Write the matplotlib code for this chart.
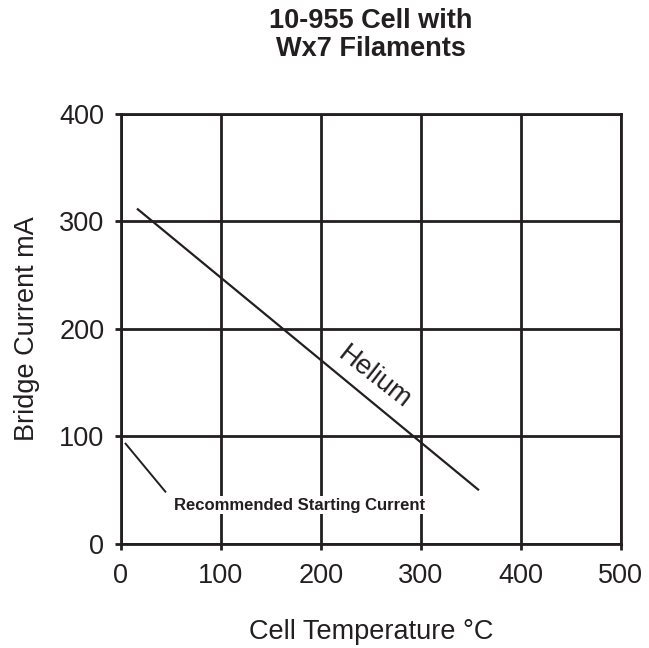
import matplotlib
matplotlib.use("Agg")
import matplotlib.pyplot as plt

plt.rcParams['font.family'] = ['Liberation Sans', 'DejaVu Sans']

ink = '#231f20'

# axis ticks
x_ticks = [0, 100, 200, 300, 400, 500]
y_ticks = [0, 100, 200, 300, 400]

# helium line (cell temperature degC vs bridge current mA)
helium_temp = [16, 358]
helium_current = [312, 50]

# leader line for the recommended starting current note
leader_temp = [4, 45]
leader_current = [94, 48]

title = "10-955 Cell with\nWx7 Filaments"

fig = plt.figure(figsize=(6.49, 6.48), dpi=100)
ax = fig.add_axes([0.1864, 0.1605, 0.7704, 0.6636])

ax.set_xlim(0, 500)
ax.set_ylim(0, 400)
ax.set_xticks(x_ticks)
ax.set_yticks(y_ticks)
ax.grid(True, color=ink, linewidth=2.0)
ax.set_axisbelow(True)
for s in ax.spines.values():
    s.set_color(ink)
    s.set_linewidth(2.0)
ax.tick_params(direction='out', length=4, width=2.0, color=ink,
               labelsize=19.5, labelcolor=ink)
ax.tick_params(axis='x', pad=10)
ax.tick_params(axis='y', pad=8)

ax.plot(helium_temp, helium_current, color=ink, linewidth=1.6, solid_capstyle='butt')
ax.plot(leader_temp, leader_current, color=ink, linewidth=1.4, solid_capstyle='butt')

ax.text(253, 155, "Helium", rotation=-38, fontsize=19.5, color=ink,
        ha='center', va='center', rotation_mode='anchor')
ax.text(179, 36, "Recommended Starting Current", fontsize=12, fontweight='bold',
        color=ink, ha='center', va='center',
        bbox=dict(facecolor='white', edgecolor='none', pad=1))

ax.set_xlabel("Cell Temperature °C", fontsize=19.5, color=ink, labelpad=21)
ax.set_ylabel("Bridge Current mA", fontsize=19.5, color=ink, labelpad=14)
ax.set_title(title, fontsize=19.5, fontweight='bold', color=ink,
             linespacing=1.06, pad=42)

fig.savefig("out.png", dpi=100)
